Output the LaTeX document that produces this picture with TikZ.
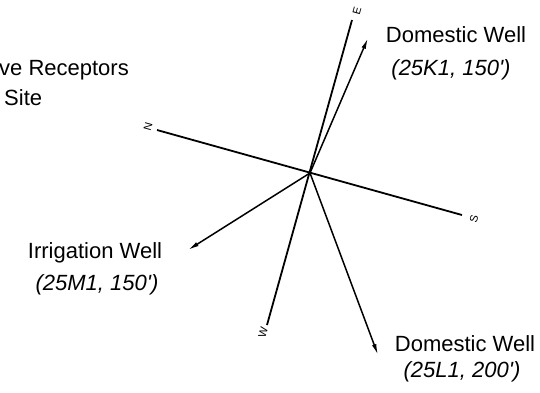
\documentclass[tikz,border=0pt]{standalone}
\usepackage{fontspec}
\setmainfont{Liberation Sans}
\usetikzlibrary{arrows.meta}
\tikzset{
  lbl/.style={inner sep=0pt, anchor=base, font=\fontsize{22}{26}\selectfont},
  lblit/.style={inner sep=0pt, anchor=base, font=\fontsize{22}{26}\selectfont\itshape},
  dirlbl/.style={inner sep=0pt, font=\fontsize{11}{11}\selectfont, rotate=74.5},
  axisline/.style={line width=1.8pt},
  ptr/.style={line width=1.5pt, -{Latex[length=11pt,width=4.5pt]}},
}
\begin{document}
\begin{tikzpicture}[x=1pt,y=-1pt]
\useasboundingbox (0,0) rectangle (540,392);
% compass
\coordinate (C) at (310,173);
\coordinate (Nend) at (157,130);
\coordinate (Send) at (462,215);
\coordinate (Eend) at (352,20);
\coordinate (Wend) at (267,325);
\coordinate (K1tip) at (368,38);
\coordinate (M1tip) at (188,250);
\coordinate (L1tip) at (378,355);
\draw[axisline] (Nend) -- (Send);
\draw[axisline] (Eend) -- (Wend);
\node[dirlbl] (nlab) at (148,127) {N};
\node[dirlbl] (slab) at (474,219) {S};
\node[dirlbl] (elab) at (357,11) {E};
\node[dirlbl] (wlab) at (263,332) {W};
\draw[ptr] (C) -- (K1tip);
\draw[ptr] (C) -- (M1tip);
\draw[ptr] (C) -- (L1tip);
% labels
\node[lbl, anchor=base west] (title1) at (-1,75) {ve Receptors};
\node[lbl, anchor=base west] (title2) at (4,105) {Site};
\node[lbl] (k1a) at (456,42) {Domestic Well};
\node[lblit] (k1b) at (451,75) {(25K1, 150\textquotesingle)};
\node[lbl] (m1a) at (95,258) {Irrigation Well};
\node[lblit] (m1b) at (97,290) {(25M1, 150\textquotesingle)};
\node[lbl] (l1a) at (465,351) {Domestic Well};
\node[lblit] (l1b) at (462,377) {(25L1, 200\textquotesingle)};
\end{tikzpicture}
\end{document}
